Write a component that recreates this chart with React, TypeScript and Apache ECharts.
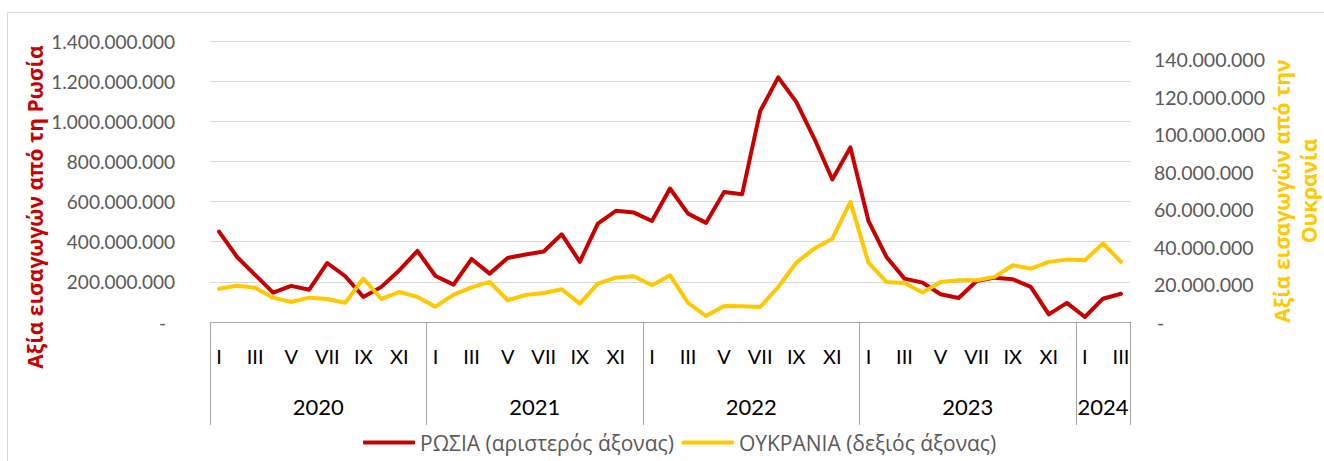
import React, { useEffect, useRef } from 'react';
import * as echarts from 'echarts';

// ---- data ----
const months = ['I', 'II', 'III', 'IV', 'V', 'VI', 'VII', 'VIII', 'IX', 'X', 'XI', 'XII'];
const years = ['2020', '2021', '2022', '2023', '2024'];
const monthsPerYear = [12, 12, 12, 12, 3];

// Value of imports from Russia (millions), left axis
const russiaMillions = [
  450, 324, 235, 146, 180, 161, 294, 228, 125, 175, 258, 354,
  229, 186, 314, 241, 319, 336, 351, 437, 300, 490, 554, 545,
  503, 665, 540, 494, 648, 637, 1051, 1219, 1097, 914, 710, 870,
  504, 324, 216, 196, 138, 120, 204, 221, 213, 175, 38, 95,
  25, 116, 141,
];

// Value of imports from Ukraine (millions), right axis
const ukraineMillions = [
  17.8, 19.4, 18.3, 13.0, 10.7, 13.0, 12.3, 10.3, 23.2, 12.3, 16.0, 13.4,
  8.2, 14.6, 18.5, 21.4, 11.6, 14.4, 15.5, 17.5, 9.8, 20.5, 23.7, 24.4,
  19.6, 24.9, 10.2, 3.2, 8.6, 8.4, 8.0, 18.7, 31.7, 39.2, 44.5, 64.1,
  31.7, 21.4, 20.8, 15.7, 21.4, 22.3, 22.3, 24.1, 30.3, 28.5, 32.1, 33.3,
  33.0, 41.9, 32.1,
];

const seriesNames = ['ΡΩΣΙΑ (αριστερός άξονας)', 'ΟΥΚΡΑΝΙΑ (δεξιός άξονας)'];
const leftTitle = 'Αξία εισαγωγών από τη Ρωσία';
const rightTitle = 'Αξία εισαγωγών από την\nΟυκρανία';

const RED = '#C80000';
const YELLOW = '#FFC800';
const LABEL = '#595959';
const FONT = "Lato, 'Open Sans', 'Noto Sans', sans-serif";
const GFONT = "'Open Sans', 'Noto Sans', sans-serif";

const fmt = (v: number) => String(Math.round(v)).replace(/\B(?=(\d{3})+(?!\d))/g, '.');

export default function App() {
  const ref = useRef<HTMLDivElement>(null);

  useEffect(() => {
    if (!ref.current) return;
    const chart = echarts.init(ref.current, undefined, { renderer: 'svg' });

    const categories: string[] = [];
    const yearStarts: number[] = [];
    const yearCenters: { c: number; y: string }[] = [];
    let acc = 0;
    years.forEach((y, yi) => {
      yearStarts.push(acc);
      yearCenters.push({ c: acc + monthsPerYear[yi] / 2, y });
      months.slice(0, monthsPerYear[yi]).forEach((m) => categories.push(m + ' ' + y));
      acc += monthsPerYear[yi];
    });
    const total = acc;

    chart.setOption({
      animation: false,
      textStyle: { fontFamily: FONT },
      grid: { left: 210, top: 41, width: 920, height: 281, containLabel: false },
      legend: {
        left: 358,
        top: 427,
        icon: 'roundRect',
        itemWidth: 52,
        itemHeight: 4,
        itemGap: 8,
        textStyle: { color: LABEL, fontSize: 21, fontFamily: GFONT },
        data: seriesNames,
      },
      graphic: [
        {
          type: 'rect',
          z: -10,
          silent: true,
          shape: { x: 7.5, y: 12.5, width: 1340, height: 470 },
          style: { fill: 'none', stroke: '#D9D9D9', lineWidth: 1 },
        },
        {
          type: 'text',
          x: 35,
          y: 207,
          rotation: Math.PI / 2,
          style: {
            text: leftTitle,
            fill: RED,
            font: `bold 21px ${GFONT}`,
            align: 'center',
            verticalAlign: 'middle',
          },
        },
        {
          type: 'text',
          x: 1295,
          y: 191,
          rotation: Math.PI / 2,
          style: {
            text: rightTitle,
            fill: YELLOW,
            font: `bold 21px ${GFONT}`,
            align: 'center',
            verticalAlign: 'middle',
            lineHeight: 27,
          },
        },
      ],
      xAxis: [
        {
          type: 'category',
          data: categories,
          boundaryGap: true,
          axisLine: { show: true, lineStyle: { color: '#A6A6A6', width: 1 } },
          axisTick: {
            show: true,
            interval: (i: number) => yearStarts.includes(i),
            length: 103,
            lineStyle: { color: '#A6A6A6', width: 1 },
          },
          axisLabel: {
            interval: 0,
            margin: 24,
            color: '#000',
            fontSize: 20,
            formatter: (v: string, i: number) => (i % 2 === 0 ? v.split(' ')[0] : ''),
          },
          splitLine: { show: false },
        },
        {
          type: 'value',
          position: 'bottom',
          min: 0,
          max: total,
          interval: 1.5,
          axisLine: { show: false },
          axisTick: { show: false },
          splitLine: { show: false },
          axisLabel: {
            margin: 73,
            color: '#000',
            fontSize: 22,
            showMinLabel: false,
            showMaxLabel: false,
            formatter: (v: number) => {
              const f = yearCenters.find((yc) => Math.abs(yc.c - v) < 0.01);
              return f ? f.y : '';
            },
          },
        },
      ],
      yAxis: [
        {
          type: 'value',
          min: 0,
          max: 1400000000,
          interval: 200000000,
          axisLine: { show: false },
          axisTick: { show: false },
          splitLine: { show: true, lineStyle: { color: '#D9D9D9', width: 1 } },
          axisLabel: {
            margin: 35,
            color: LABEL,
            fontSize: 19,
            formatter: (v: number) => (v === 0 ? '{z|-}' : fmt(v)),
            rich: { z: { color: LABEL, fontSize: 19, padding: [0, 9, 0, 0] } },
          },
        },
        {
          type: 'value',
          position: 'right',
          min: 0,
          max: 150000000,
          interval: 20000000,
          axisLine: { show: false },
          axisTick: { show: false },
          splitLine: { show: false },
          axisLabel: {
            margin: 24,
            color: LABEL,
            fontSize: 19.5,
            showMaxLabel: false,
            formatter: (v: number) => (v === 0 ? '{z|-}' : fmt(v)),
            rich: { z: { color: LABEL, fontSize: 19.5, padding: [0, 0, 0, 3] } },
          },
        },
      ],
      series: [
        {
          name: seriesNames[0],
          type: 'line',
          xAxisIndex: 0,
          yAxisIndex: 0,
          data: russiaMillions.map((v) => v * 1e6),
          showSymbol: false,
          symbol: 'none',
          color: RED,
          lineStyle: { color: RED, width: 4, cap: 'round', join: 'round' },
        },
        {
          name: seriesNames[1],
          type: 'line',
          xAxisIndex: 0,
          yAxisIndex: 1,
          data: ukraineMillions.map((v) => v * 1e6),
          showSymbol: false,
          symbol: 'none',
          color: YELLOW,
          lineStyle: { color: YELLOW, width: 4, cap: 'round', join: 'round' },
        },
      ],
    });

    return () => chart.dispose();
  }, []);

  return (
    <div
      ref={ref}
      style={{ position: 'fixed', left: 0, top: 0, width: 1324, height: 461, background: '#fff' }}
    />
  );
}
